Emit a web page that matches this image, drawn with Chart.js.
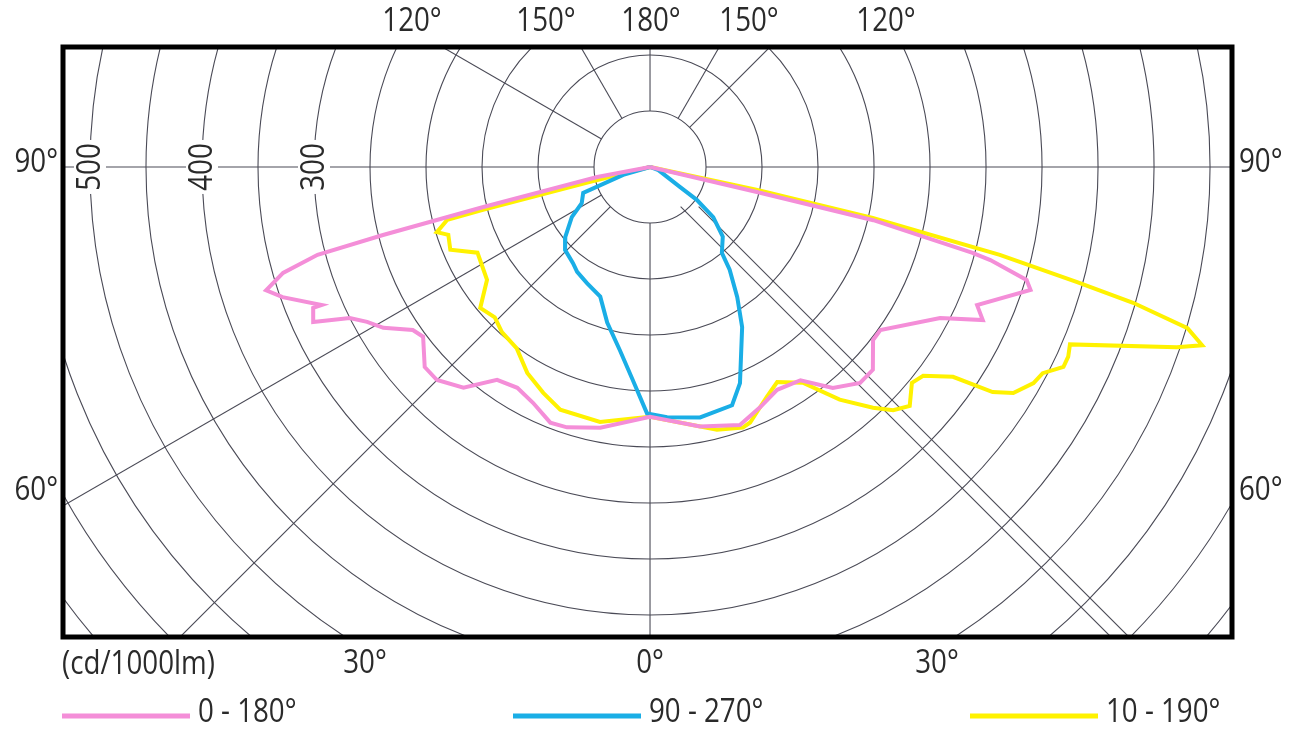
<!DOCTYPE html>
<html>
<head>
<meta charset="utf-8">
<script src="https://cdn.jsdelivr.net/npm/chart.js@4.4.1/dist/chart.umd.min.js"></script>
<style>
  html, body { margin: 0; padding: 0; background: #fff; }
  #wrap { width: 1296px; height: 732px; }
</style>
</head>
<body>
<div id="wrap"><canvas id="polarChart" width="1296" height="732"></canvas></div>
<script>
// gamma angle from nadir in degrees (left half negative), intensity in cd/1000lm
const pinkAngles = [-90, -79.3, -76.5, -75.7, -75.2, -73.9, -72.2, -70.5, -67.2, -67.3, -65.3, -63.3, -61.3, -58.9, -55.5, -53.2, -48.4, -45, -40.2, -35.7, -31, -26.4, -21.3, -17.7, -10.8, 0, 10.9, 19.2, 24.6, 29.7, 35.2, 39.6, 44.2, 47.7, 52.2, 54.7, 62.5, 65.3, 67.1, 72.1, 73.3, 74.7, 75.1, 76.6, 76.8, 90]
const pinkValues = [0, 48, 153, 246, 307, 341, 360, 348, 318, 326, 331, 300, 288, 278, 257, 253, 269, 269, 258, 234, 230, 235, 245, 244, 237, 223, 236, 244, 236, 229, 233, 256, 269, 269, 252, 252, 292, 327, 317, 357, 351, 315, 298, 205, 98, 0]

const blueAngles = [-90, -73.5, -68.8, -62.1, -57.3, -50.5, -45.7, -38.7, -34.8, -28.5, -21, -15.4, -9.3, -4.6, -0.7, 3.9, 11.3, 19, 22.6, 29.9, 33.8, 37.8, 39.9, 46.2, 51.6, 54.9, 56.3, 69.4, 90]
const blueValues = [0, 25, 64, 69, 83, 98, 106, 110, 114, 118, 124, 144, 166, 191, 220, 224, 228, 225, 209, 165, 140, 116, 100, 90, 72, 51, 32, 8, 0]

const yellowAngles = [-90, -76, -75.6, -75.4, -73, -71.4, -67.5, -63.6, -61.3, -55.3, -50.3, -45.9, -41.9, -36.3, -30.8, -25.3, -20.3, -11.1, -3.9, 0, 14.3, 19.6, 21.4, 27, 30.6, 35.3, 39.2, 42.8, 45, 47.4, 50.5, 52.6, 55.3, 56.7, 58.1, 60.6, 62.3, 64.2, 65.6, 67.1, 71.1, 72.1, 73.3, 74.3, 74.9, 75.9, 77.1, 77.9, 90]
const yellowValues = [0, 55, 154, 187, 199, 190, 193, 172, 173, 177, 197, 193, 198, 201, 214, 223, 231, 232, 225, 223, 242, 247, 245, 230, 223, 236, 268, 293, 307, 315, 303, 307, 329, 366, 382, 393, 396, 410, 410, 407, 497, 518, 501, 448, 395, 322, 204, 98, 0]

const seriesNames = ['0 - 180°', '90 - 270°', '10 - 190°']
const ringValues = [50, 100, 150, 200, 250, 300, 350, 400, 450, 500, 550, 600, 650, 700, 750]
const radialTicks = [300, 400, 500]
const spokeAngles = [-150, -120, -90, -60, -45, 0, 90, 135, 150, 180]
const topTicks = ['120°', '150°', '180°', '150°', '120°']
const sideTicks = ['90°', '60°']
const bottomTicks = ['30°', '0°', '30°']
const unitLabel = '(cd/1000lm)'

function toXY(angles, values) {
  return angles.map(function (a, i) {
    const t = a * Math.PI / 180
    return { x: values[i] * Math.sin(t), y: -values[i] * Math.cos(t) }
  })
}

const FONT = '33px "Open Sans", "DejaVu Sans", sans-serif'
const TXT = '#2a2a2a'
const SQUEEZE = 0.84

// condensed text: the print uses a narrow face, so squeeze horizontally
function label(ctx, text, x, y, align) {
  ctx.save()
  ctx.translate(x, y)
  ctx.scale(SQUEEZE, 1)
  ctx.textAlign = align || 'center'
  ctx.fillText(text, 0, 0)
  ctx.restore()
}

const polarGrid = {
  id: 'polarGrid',
  beforeDatasetsDraw(chart) {
    const { ctx, chartArea: a, scales } = chart
    const sx = scales.x, sy = scales.y
    const px = (r, deg) => sx.getPixelForValue(r * Math.sin(deg * Math.PI / 180))
    const py = (r, deg) => sy.getPixelForValue(-r * Math.cos(deg * Math.PI / 180))
    const cx = sx.getPixelForValue(0), cy = sy.getPixelForValue(0)
    const k = sx.getPixelForValue(1) - cx
    ctx.save()
    ctx.beginPath()
    ctx.rect(a.left, a.top, a.width, a.height)
    ctx.clip()
    ctx.strokeStyle = '#4a4a56'
    ctx.lineWidth = 1.1
    ringValues.forEach(function (v) {
      ctx.beginPath()
      ctx.arc(cx, cy, v * k, 0, Math.PI * 2)
      ctx.stroke()
    })
    spokeAngles.forEach(function (d) {
      ctx.beginPath()
      ctx.moveTo(px(50, d), py(50, d))
      ctx.lineTo(px(1000, d), py(1000, d))
      ctx.stroke()
    })
    // the 45 deg line on the right is printed twice, a little apart
    ;[-9, 9].forEach(function (off) {
      ctx.beginPath()
      ctx.moveTo(px(50, 45) + off, py(50, 45))
      ctx.lineTo(px(1000, 45) + off, py(1000, 45))
      ctx.stroke()
    })
    // radial value labels on the 90 deg line
    ctx.font = FONT
    ctx.textBaseline = 'middle'
    radialTicks.forEach(function (v) {
      const lx = px(v, -90), ly = py(v, -90)
      ctx.save()
      ctx.fillStyle = '#fff'
      ctx.fillRect(lx - 16, ly - 27, 32, 54)
      ctx.translate(lx, ly)
      ctx.rotate(-Math.PI / 2)
      ctx.fillStyle = TXT
      label(ctx, String(v), 0, 1)
      ctx.restore()
    })
    ctx.restore()
  },
  afterDraw(chart) {
    const { ctx, chartArea: a, scales } = chart
    const cx = scales.x.getPixelForValue(0), cy = scales.y.getPixelForValue(0)
    ctx.save()
    ctx.strokeStyle = '#000'
    ctx.lineWidth = 5
    ctx.strokeRect(a.left, a.top, a.width, a.height)

    ctx.font = FONT
    ctx.fillStyle = TXT
    ctx.textBaseline = 'middle'
    const topX = [-238, -104, 1, 99, 236]
    topTicks.forEach(function (t, i) { label(ctx, t, cx + topX[i], 22) })
    const sideY = [cy - 4, 491]
    sideTicks.forEach(function (t, i) { label(ctx, t, a.left - 5, sideY[i], 'right') })
    sideTicks.forEach(function (t, i) { label(ctx, t, a.right + 7, sideY[i], 'left') })
    const botX = [-285, 0, 287]
    bottomTicks.forEach(function (t, i) { label(ctx, t, cx + botX[i], 664) })
    label(ctx, unitLabel, a.left - 1, 665, 'left')

    // legend
    const legX = [62, 513, 970]
    chart.data.datasets.forEach(function (ds, i) {
      ctx.strokeStyle = ds.borderColor
      ctx.lineWidth = 5
      ctx.beginPath()
      ctx.moveTo(legX[i], 716)
      ctx.lineTo(legX[i] + 128, 716)
      ctx.stroke()
      label(ctx, ds.label, legX[i] + 136, 713, 'left')
    })
    ctx.restore()
  }
}

const ctx = document.getElementById('polarChart').getContext('2d')
const polarChart = new Chart(ctx, {
  type: 'scatter',
  data: {
    datasets: [
      { label: seriesNames[0], data: toXY(pinkAngles, pinkValues), borderColor: '#f48ed8' },
      { label: seriesNames[1], data: toXY(blueAngles, blueValues), borderColor: '#1aaee6' },
      { label: seriesNames[2], data: toXY(yellowAngles, yellowValues), borderColor: '#fff200' }
    ].map(function (d) {
      return Object.assign(d, { showLine: true, borderWidth: 4, pointRadius: 0, tension: 0, fill: false })
    })
  },
  options: {
    responsive: false,
    animation: false,
    devicePixelRatio: 1,
    layout: { padding: { left: 63, right: 64, top: 47, bottom: 95 } },
    scales: {
      x: { type: 'linear', min: -524.1, max: 519.6, display: false },
      y: { type: 'linear', min: -419.6, max: 107.1, display: false }
    },
    plugins: { legend: { display: false }, tooltip: { enabled: false } }
  },
  plugins: [polarGrid]
})
</script>
</body>
</html>
